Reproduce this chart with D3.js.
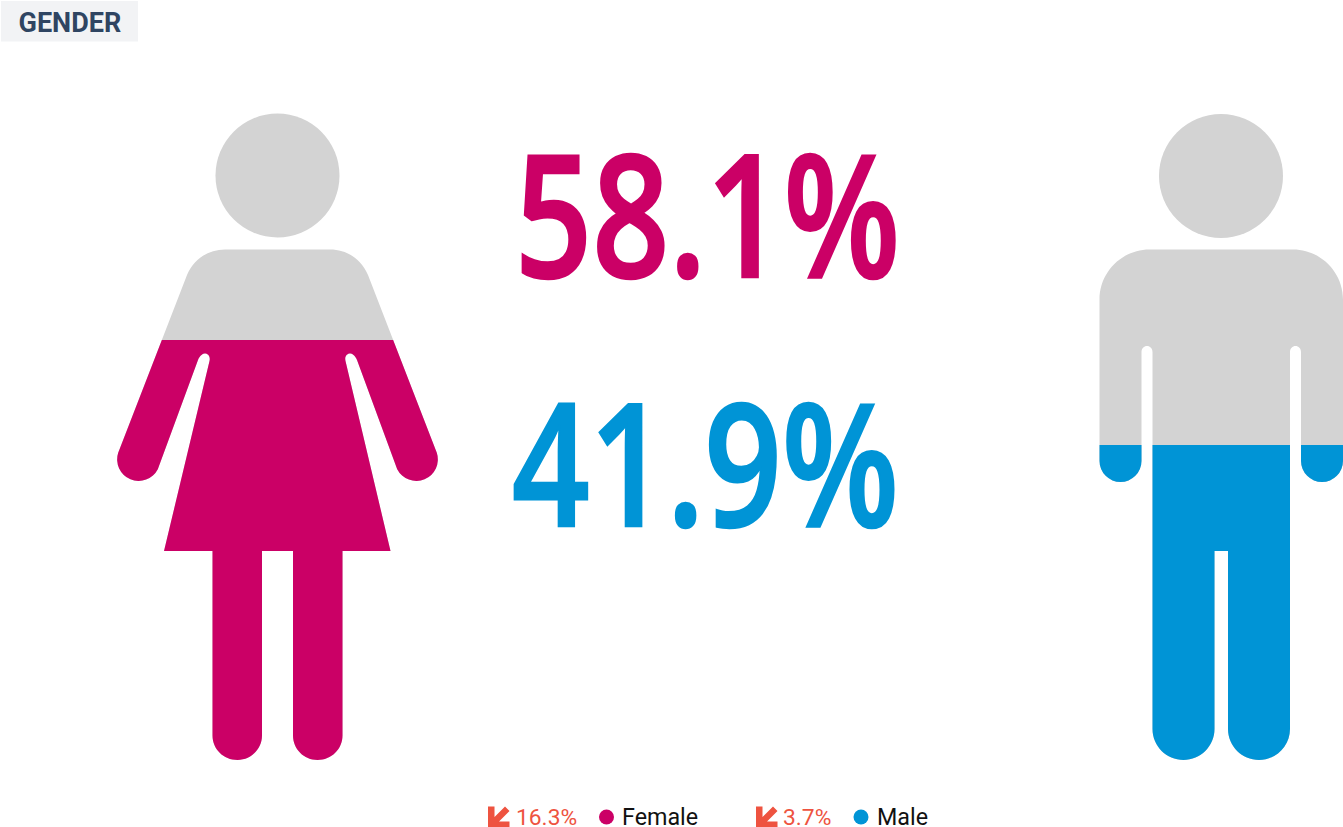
<!DOCTYPE html>
<html><head><meta charset="utf-8">
<script src="https://cdn.jsdelivr.net/npm/d3@7"></script>
<style>html,body{margin:0;padding:0;background:#fff;overflow:hidden}svg{display:block}</style>
</head><body><svg id="c" width="1343" height="827"></svg>
<script>
const title = "GENDER";
const categories = ["Female", "Male"];
const shares = [58.1, 41.9];
const changes = [16.3, 3.7];
const colors = ["#CB0066", "#0094D6"];
const gray = "#D3D3D3";
const changeColor = "#EE5340";

const femalePath = "M225 249.500H330C347 249.500 361 259 368 275L436.800 452.800A21.500 21.500 0 0 1 397.200 469.200L357 360C355 355 352 353.500 350 353.500C346.500 353.500 344.500 357 345.500 361L390.500 551H342.500V735.500C342.500 749 331.500 760 317.500 760C304 760 293 749 293 735.500V551H262V735.500C262 749 251 760 237.500 760C223.500 760 212.500 749 212.500 735.500V551H164L209.500 361C210.500 357 208.500 353.500 205 353.500C203 353.500 200 355 198 360L157.800 469.200A21.500 21.500 0 0 1 118.200 452.800L187 275C194 259 208 249.500 225 249.500Z";
const malePath = "M1149.500 249.500H1293C1320.500 249.500 1343 272 1343 299.500V461A21 21 0 0 1 1301 461V352C1301 348.500 1298.500 346 1295.500 346C1292.500 346 1290 348.500 1290 352V729C1290 746 1276 760 1259 760C1242 760 1228 746 1228 729V551H1214.500V729C1214.500 746 1200.500 760 1183.500 760C1166.500 760 1152.500 746 1152.500 729V352C1152.500 348.500 1150 346 1147 346C1144 346 1141.500 348.500 1141.500 352V461A21 21 0 0 1 1099.500 461V299.500C1099.500 272 1122 249.500 1149.500 249.500Z";
const figures = [
  {body: femalePath, cx: 277.5, cy: 175.5, r: 62},
  {body: malePath, cx: 1221, cy: 176, r: 62}
];
const bigText = [{x: 515, y: 276.5, w: 385}, {x: 512, y: 525.5, w: 387}];
const legendX = [{arrow: 488, change: 516, dot: 606.5, label: 622}, {arrow: 756, change: 783, dot: 861, label: 877}];

const svg = d3.select("#c");
const fill = d3.scaleLinear().domain([0, 100]).range([716.6, 68.6]);
const rows = categories.map((name, i) => ({name, i, share: shares[i], change: changes[i], color: colors[i], fig: figures[i], big: bigText[i], lx: legendX[i]}));

svg.append("rect").attr("x", 1).attr("y", 1).attr("width", 137).attr("height", 40.500).attr("fill", "#F2F3F5");
svg.append("text").attr("x", 18.5).attr("y", 31.5).attr("font-family", "Roboto").attr("font-weight", 700).attr("font-size", 27).attr("fill", "#2F4562").text(title);

const defs = svg.append("defs");
defs.selectAll("clipPath").data(rows).join("clipPath").attr("id", d => "fill" + d.i)
  .append("rect").attr("x", 0).attr("width", 1343).attr("y", d => fill(d.share)).attr("height", d => 827 - fill(d.share));

const g = svg.selectAll("g.fig").data(rows).join("g").attr("class", "fig");
g.append("circle").attr("cx", d => d.fig.cx).attr("cy", d => d.fig.cy).attr("r", d => d.fig.r).attr("fill", gray);
g.append("path").attr("d", d => d.fig.body).attr("fill", gray);
g.append("path").attr("d", d => d.fig.body).attr("fill", d => d.color).attr("clip-path", d => `url(#fill${d.i})`);

svg.selectAll("text.big").data(rows).join("text").attr("class", "big")
  .attr("x", d => d.big.x).attr("y", d => d.big.y)
  .attr("textLength", d => d.big.w).attr("lengthAdjust", "spacingAndGlyphs")
  .attr("font-family", "Open Sans").attr("font-weight", 600).attr("font-size", 170)
  .attr("fill", d => d.color).attr("stroke", d => d.color).attr("stroke-width", 2.5)
  .text(d => d.share.toFixed(1) + "%");

const leg = svg.selectAll("g.leg").data(rows).join("g").attr("class", "leg");
leg.append("path").attr("fill", changeColor)
  .attr("transform", d => `translate(${d.lx.arrow},806.500)`)
  .attr("d", "M0 0H6.500V10.500L17 0L21.500 4.500L11 15H21.500V21H0Z");
leg.append("text").attr("x", d => d.lx.change).attr("y", 824.500).attr("font-family", "Roboto").attr("font-size", 22.800).attr("fill", changeColor).text(d => d.change.toFixed(1) + "%");
leg.append("circle").attr("cx", d => d.lx.dot).attr("cy", 817).attr("r", 7.500).attr("fill", d => d.color);
leg.append("text").attr("x", d => d.lx.label).attr("y", 824.500).attr("font-family", "Roboto").attr("font-size", 23.300).attr("fill", "#111").text(d => d.name);
</script></body></html>
